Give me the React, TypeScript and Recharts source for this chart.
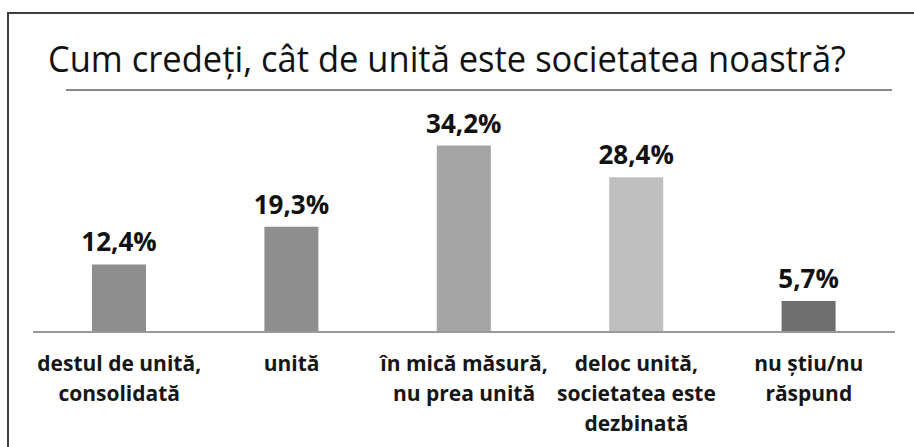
import { BarChart, Bar, XAxis, YAxis, Cell, LabelList } from 'recharts';

const categories = ['destul', 'unita', 'mica', 'deloc', 'nustiu'];
const categoryLines: string[][] = [
  ['destul de unită,', 'consolidată'],
  ['unită'],
  ['în mică măsură,', 'nu prea unită'],
  ['deloc unită,', 'societatea este', 'dezbinată'],
  ['nu știu/nu', 'răspund'],
];
const values = [12.4, 19.3, 34.2, 28.4, 5.7];
const barColors = ['#8e8e8e', '#8e8e8e', '#a4a4a4', '#bfbfbf', '#6f6f6f'];
const title = 'Cum credeți, cât de unită este societatea noastră?';

const data = categories.map((name, i) => ({ name, value: values[i] }));

const CategoryTick = (props: any) => {
  const { x, y, payload } = props;
  const lines = categoryLines[categories.indexOf(payload.value)] || [];
  return (
    <text
      x={x}
      y={y}
      textAnchor="middle"
      fill="#161616"
      fontFamily="'Open Sans', sans-serif"
      fontWeight={700}
      fontSize={21}
    >
      {lines.map((line, i) => (
        <tspan key={i} x={x} y={y + 39 + i * 30}>
          {line}
        </tspan>
      ))}
    </text>
  );
};

export default function App() {
  return (
    <div style={{ position: 'absolute', left: 0, top: 0, width: 914, height: 447, background: '#fff', overflow: 'hidden' }}>
      {/* frame: only top and left edges are visible */}
      <div
        style={{
          position: 'absolute',
          left: 7,
          top: 12,
          width: 920,
          height: 460,
          borderTop: '2px solid #3c3c3c',
          borderLeft: '2px solid #3c3c3c',
        }}
      />
      <svg width={914} height={447} style={{ position: 'absolute', left: 0, top: 0 }}>
        <text
          x={48}
          y={72}
          fontFamily="'Open Sans', sans-serif"
          fontSize={36}
          fill="#111"
          textLength={798}
          lengthAdjust="spacingAndGlyphs"
        >
          {title}
        </text>
        <line x1={66} y1={90} x2={892} y2={90} stroke="#8a8a8a" strokeWidth={2} />
      </svg>
      <BarChart
        width={914}
        height={447}
        data={data}
        margin={{ top: 114, right: 19, bottom: 30, left: 33 }}
        barCategoryGap={59}
        style={{ position: 'absolute', left: 0, top: 0 }}
      >
        <YAxis hide domain={[0, 40]} />
        <XAxis
          dataKey="name"
          interval={0}
          height={85}
          tickLine={false}
          tickSize={0}
          tickMargin={0}
          axisLine={{ stroke: '#999', strokeWidth: 2 }}
          tick={<CategoryTick />}
        />
        <Bar dataKey="value" isAnimationActive={false}>
          {data.map((d, i) => (
            <Cell key={d.name} fill={barColors[i]} />
          ))}
          <LabelList
            dataKey="value"
            position="top"
            offset={13}
            formatter={(v: any) => `${String(v).replace('.', ',')}%`}
            fill="#111"
            fontFamily="'Open Sans', sans-serif"
            fontWeight={700}
            fontSize={26}
          />
        </Bar>
      </BarChart>
    </div>
  );
}
